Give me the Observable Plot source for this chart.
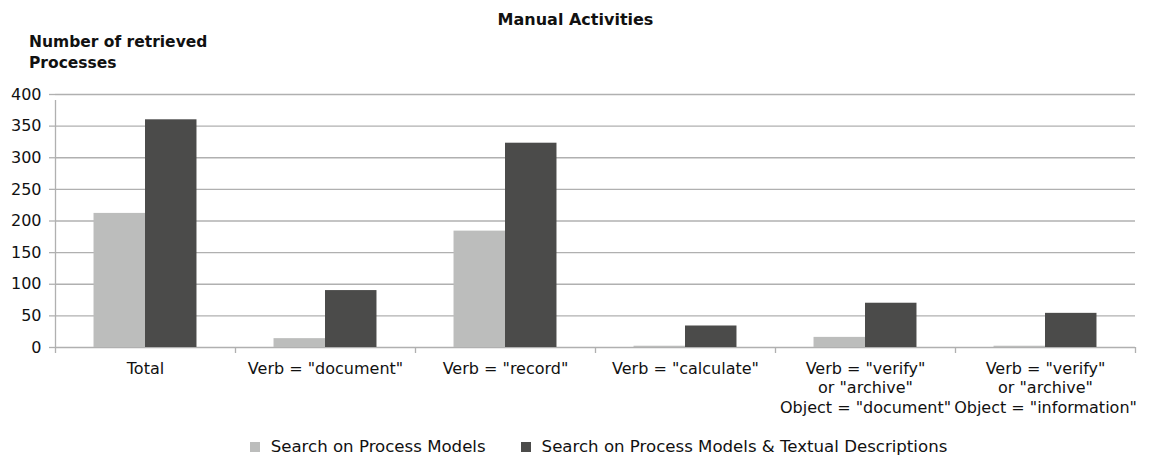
<!DOCTYPE html>
<html>
<head>
<meta charset="utf-8">
<script src="https://cdn.jsdelivr.net/npm/d3@7"></script>
<script src="https://cdn.jsdelivr.net/npm/@observablehq/plot@0.6"></script>
<style>
  html, body { margin: 0; padding: 0; background: #fff; }
  body { width: 1151px; height: 463px; position: relative; overflow: hidden;
         font-family: "DejaVu Sans", "Liberation Sans", Arial, sans-serif; color: #111; }
  #title { position: absolute; top: 10px; left: 0; width: 1151px; text-align: center;
           font-weight: bold; font-size: 16px; }
  #ylabel { position: absolute; top: 32px; left: 29px; font-weight: bold; font-size: 15.5px; line-height: 21px; }
  #chart { position: absolute; top: 0; left: 0; }
  #legend { position: absolute; top: 437px; left: 23px; width: 1151px; display: flex; justify-content: center;
            gap: 35px; font-size: 16.6px; }
  #legend .item { display: flex; align-items: center; }
  #legend .sw { width: 10px; height: 10px; margin-right: 11px; }
</style>
</head>
<body>
<div id="chart"></div>
<div id="title">Manual Activities</div>
<div id="ylabel">Number of retrieved<br>Processes</div>
<div id="legend"></div>
<script>
const categories = [
  "Total",
  'Verb = "document"',
  'Verb = "record"',
  'Verb = "calculate"',
  'Verb = "verify"\nor "archive"\nObject = "document"',
  'Verb = "verify"\nor "archive"\nObject = "information"'
];
const series = ["Search on Process Models", "Search on Process Models & Textual Descriptions"];
const modelsOnly = [212, 14, 184, 2, 16, 2];
const modelsAndText = [360, 90, 323, 34, 70, 54];
const yTicks = [0, 50, 100, 150, 200, 250, 300, 350, 400];
const colors = ["#bcbdbc", "#4b4b4a"];

const data = [];
categories.forEach((c, i) => {
  data.push({category: c, series: series[0], value: modelsOnly[i]});
  data.push({category: c, series: series[1], value: modelsAndText[i]});
});

const W = 1151, H = 420, ML = 55, MR = 16, MT = 94, MB = 73;
const step = (W - ML - MR) / categories.length;
const bw = step * 0.286;
const outer = (step - 2 * bw) / 2;
const gridColor = "#b0b0b0";
const font = '"DejaVu Sans", "Liberation Sans", Arial, sans-serif';

const chart = Plot.plot({
  width: W, height: H,
  marginLeft: ML, marginRight: MR, marginTop: MT, marginBottom: MB,
  style: {fontFamily: font, fontSize: "16px", color: "#111", background: "#fff"},
  x: {domain: categories, padding: 0, label: null},
  y: {domain: [0, 400], label: null},
  color: {domain: series, range: colors},
  marks: [
    Plot.ruleY(yTicks, {y: d => d, stroke: gridColor, strokeWidth: 1.3}),
    Plot.barY(data.filter(d => d.series === series[0]), {
      x: "category", y: "value", fill: "series",
      insetLeft: outer, insetRight: step - outer - bw
    }),
    Plot.barY(data.filter(d => d.series === series[1]), {
      x: "category", y: "value", fill: "series",
      insetLeft: outer + bw, insetRight: outer
    }),
    Plot.ruleX(categories, {x: d => d, dx: -step / 2, y1: 0, y2: 0, insetBottom: -6, stroke: gridColor, strokeWidth: 1.3}),
    Plot.ruleX(categories.slice(-1), {x: d => d, dx: step / 2, y1: 0, y2: 0, insetBottom: -6, stroke: gridColor, strokeWidth: 1.3}),
    Plot.ruleX(categories.slice(0, 1), {x: d => d, dx: -step / 2, y1: 0, y2: 400, insetBottom: -6, stroke: gridColor, strokeWidth: 1.3}),
    Plot.axisY({ticks: yTicks, tickSize: 6, tickPadding: 8, stroke: gridColor, strokeWidth: 1.3, fontSize: 16, label: null}),
    Plot.axisX({tickSize: 0, tickPadding: 13, fontSize: 16, lineHeight: 1.2, label: null})
  ]
});
document.getElementById("chart").appendChild(chart);

const legend = document.getElementById("legend");
series.forEach((s, i) => {
  const item = document.createElement("div");
  item.className = "item";
  const sw = document.createElement("span");
  sw.className = "sw";
  sw.style.background = colors[i];
  const t = document.createElement("span");
  t.textContent = s;
  item.appendChild(sw);
  item.appendChild(t);
  legend.appendChild(item);
});
</script>
</body>
</html>
